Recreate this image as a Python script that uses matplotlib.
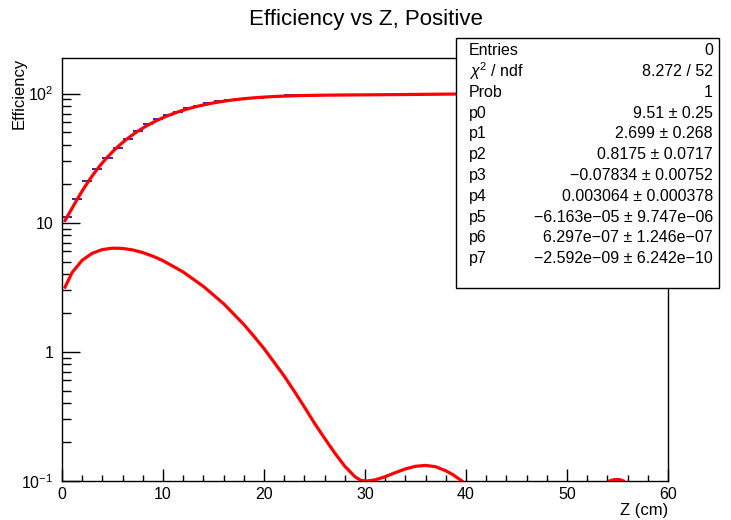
import numpy as np
import matplotlib
matplotlib.use("Agg")
import matplotlib.pyplot as plt
from matplotlib.patches import Rectangle
from matplotlib.ticker import FixedLocator, MultipleLocator, NullFormatter

plt.rcParams['font.family'] = ['Liberation Sans', 'DejaVu Sans']
plt.rcParams['mathtext.fontset'] = 'custom'
plt.rcParams['mathtext.rm'] = 'Liberation Sans'
plt.rcParams['mathtext.it'] = 'Liberation Sans:italic'

# %% data

z_bins = np.arange(0.5, 60, 1.0)
eff = [11.0, 15.3, 20.9, 26.1, 31.6, 38.1, 44.3, 51.4, 57.9, 63.3,
       68.4, 72.0, 77.0, 80.5, 84.0, 87.7, 89.0, 90.6, 92.0, 93.0,
       93.8, 95.0, 96.6, 96.6, 96.8, 97.2, 97.5, 97.6, 97.8, 97.8,
       98.0, 98.2, 98.0, 98.3, 98.2, 98.4, 98.3, 98.5, 98.6, 98.8,
       99.0, 99.1, 99.0, 99.2, 99.3, 99.2, 99.4, 99.5, 99.4, 99.6,
       99.6, 99.7, 99.6, 99.8, 99.8, 99.9, 99.8, 100.0, 100.1, 100.2]

# pol7 fit parameters from the stats box
par_names = ['p0', 'p1', 'p2', 'p3', 'p4', 'p5', 'p6', 'p7']
par_vals = [9.51, 2.699, 0.8175, -0.07834, 0.003064, -6.163e-05, 6.297e-07, -2.592e-09]
par_errs = ['0.25', '0.268', '0.0717', '0.00752', '0.000378', '9.747e\u221206', '1.246e\u221207', '6.242e\u221210']
par_txt = ['9.51', '2.699', '0.8175', '\u22120.07834', '0.003064', '\u22126.163e\u221205', '6.297e\u221207', '\u22122.592e\u221209']

entries = 0
chi2_ndf = '8.272 / 52'
prob = 1

# lower red curve (slope of the fit)
slope_z = [0.3, 1, 2, 3, 4, 5, 6, 7, 8, 9, 10, 12, 14, 16, 18, 19, 20, 21, 22, 23, 24,
           25, 26, 27, 28, 29, 29.6, 30.2, 31, 32, 33, 34, 35, 36, 37, 38, 38.7, 39.6]
slope_v = [3.17, 4.11, 5.12, 5.80, 6.19, 6.35, 6.32, 6.15, 5.87, 5.50, 5.08, 4.15, 3.21,
           2.36, 1.63, 1.32, 1.06, 0.83, 0.649, 0.495, 0.374,
           0.280, 0.214, 0.165, 0.130, 0.108, 0.101, 0.100, 0.102, 0.108, 0.116, 0.124,
           0.130, 0.132, 0.129, 0.120, 0.112, 0.100]
slope2_z = [54.2, 54.7, 55.2, 55.6]
slope2_v = [0.100, 0.1025, 0.1025, 0.100]

# %% fit curve (as drawn by ROOT, 100 points)

fit = np.polynomial.Polynomial(par_vals)
zz = np.linspace(0.3, 59.7, 100)
y_fit = fit(zz)

# %%

fig = plt.figure(figsize=(7.31, 5.2), dpi=100)
ax = fig.add_axes([62/731, 1-481/520, (668-62)/731, (481-57.5)/520])

ax.errorbar(z_bins, eff, xerr=0.5, fmt='none', ecolor='#1a1ab0', elinewidth=1.3, capsize=0, zorder=2)
ax.plot(zz, y_fit, color='#ff0000', lw=2.3, zorder=3)
ax.plot(slope_z, slope_v, color='#ff0000', lw=2.3, zorder=3)
ax.plot(slope2_z, slope2_v, color='#ff0000', lw=2.3, zorder=3)

ax.set_yscale('log')
ax.set_xlim(0, 60)
ax.set_ylim(0.1, 190)

ax.xaxis.set_major_locator(MultipleLocator(10))
ax.xaxis.set_minor_locator(MultipleLocator(2))
ax.yaxis.set_major_locator(FixedLocator([0.1, 1, 10, 100]))
ax.set_yticklabels([r'$\mathregular{10^{-1}}$', '1', '10', r'$\mathregular{10^{2}}$'])
minors = [m * 10.0**d for d in range(-1, 3) for m in range(2, 10)]
ax.yaxis.set_minor_locator(FixedLocator(minors))
ax.yaxis.set_minor_formatter(NullFormatter())

ax.tick_params(axis='x', which='major', direction='in', length=8.6, width=1, labelsize=11.5, pad=4)
ax.tick_params(axis='x', which='minor', direction='in', length=4.3, width=1)
ax.tick_params(axis='y', which='major', direction='in', length=13, width=1, labelsize=11.5, pad=6)
ax.tick_params(axis='y', which='minor', direction='in', length=6.5, width=1)
for s in ax.spines.values():
    s.set_linewidth(1)

fig.text(0.5, 1-19/520, 'Efficiency vs Z, Positive', ha='center', va='center', fontsize=16)
fig.text(19/731, 1-58/520, 'Efficiency', rotation=90, ha='center', va='top', fontsize=12)
fig.text(668/731, 1-510/520, 'Z (cm)', ha='right', va='center', fontsize=12)

# stats box
bx0, bx1, by0, by1 = 456, 719, 38, 288
fig.patches.append(Rectangle((bx0/731, 1-by1/520), (bx1-bx0)/731, (by1-by0)/520,
                             transform=fig.transFigure, facecolor='white',
                             edgecolor='black', lw=1, zorder=5))
rows = [('Entries', str(entries)), (r'$\chi^{2}$ / ndf', chi2_ndf), ('Prob', str(prob))]
for n, v, e in zip(par_names, par_txt, par_errs):
    rows.append((n, f'{v} \u00b1 {e}'))
for i, (lab, val) in enumerate(rows):
    yy = 1 - (50.7 + 20.8*i)/520
    fig.text(469/731, yy, lab, ha='left', va='center', fontsize=11.5, zorder=6)
    fig.text(713/731, yy, val, ha='right', va='center', fontsize=11.5, zorder=6)

fig.savefig('out.png', dpi=100)
